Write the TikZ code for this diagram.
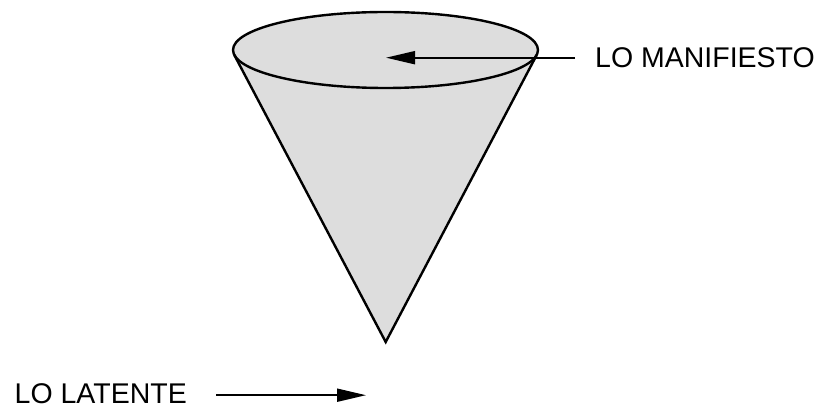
\documentclass[tikz,border=0pt]{standalone}
\usepackage{fontspec}
\setmainfont{Liberation Sans}
\usetikzlibrary{arrows.meta}
\definecolor{conegray}{HTML}{DDDDDD}
\begin{document}
\begin{tikzpicture}[x=1pt,y=-1pt,
  outline/.style={line width=2.4pt, line join=miter},
  arr/.style={line width=1.9pt,-{Triangle[length=29pt,width=13pt]}},
  lbl/.style={font=\fontsize{28.5}{34}\selectfont, inner ysep=0pt, text height=20.4pt, text depth=0pt}]
\useasboundingbox (0,0) rectangle (820,406);
\coordinate (apex) at (385.7,342);
\coordinate (tl) at (234.3,55);
\coordinate (tr) at (536.7,55);
\coordinate (ctr) at (385.5,50);
\fill[conegray] (tl) -- (apex) -- (tr) -- cycle;
\draw[outline, fill=conegray] (ctr) ellipse [x radius=152.5, y radius=38];
\draw[outline] (tl) -- (apex) -- (tr);
\node[lbl, anchor=west, inner xsep=20pt] (manif) at (575,57.2) {LO MANIFIESTO};
\coordinate (mtip) at (386,57.7);
\draw[arr] (manif.west |- mtip) -- (mtip);
\node[lbl, anchor=east, inner xsep=29pt] (laten) at (216,393.2) {LO LATENTE};
\coordinate (ltip) at (366,395.2);
\draw[arr] (laten.east |- ltip) -- (ltip);
\end{tikzpicture}
\end{document}
